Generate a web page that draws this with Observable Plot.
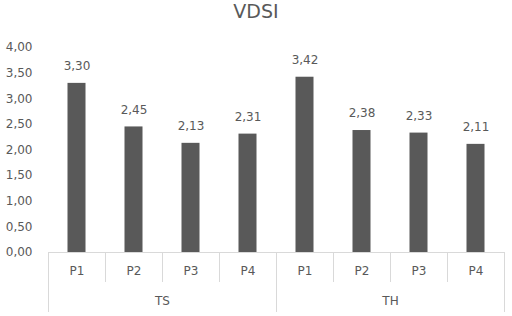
<!DOCTYPE html>
<html>
<head>
<meta charset="utf-8">
<script src="https://cdn.jsdelivr.net/npm/d3@7"></script>
<script src="https://cdn.jsdelivr.net/npm/@observablehq/plot@0.6"></script>
<style>
  html, body { margin: 0; padding: 0; background: #fff; }
  #wrap { width: 512px; }
  #title { height: 30px; line-height: 25px; text-align: center; font: 19px "DejaVu Sans", sans-serif; color: #595959; }
</style>
</head>
<body>
<div id="wrap">
  <div id="title">VDSI</div>
  <div id="chart"></div>
</div>
<script>
const groups = ["TS", "TH"];
const periods = ["P1", "P2", "P3", "P4"];
const valuesTS = [3.30, 2.45, 2.13, 2.31];
const valuesTH = [3.42, 2.38, 2.33, 2.11];
const yTicks = [0, 0.5, 1, 1.5, 2, 2.5, 3, 3.5, 4];

const seriesByGroup = {TS: valuesTS, TH: valuesTH};
const data = [];
groups.forEach((g, gi) => periods.forEach((p, pi) => {
  data.push({group: g, period: p, i: gi * periods.length + pi, value: seriesByGroup[g][pi]});
}));
const n = data.length;
const fmt = v => v.toFixed(2).replace(".", ",");
const gray = "#595959";
const light = "#d9d9d9";

const catBounds = d3.range(0, n + 1);
const groupBounds = d3.range(0, n + 1, periods.length);
const catCenters = data.map(d => d.i + 0.5);
const groupCenters = groups.map((g, gi) => gi * periods.length + periods.length / 2);

const chart = Plot.plot({
  width: 512,
  height: 286,
  marginTop: 17,
  marginBottom: 64,
  marginLeft: 48,
  marginRight: 8,
  style: {fontFamily: "DejaVu Sans, sans-serif", fontSize: "12px", color: gray, background: "#fff"},
  x: {type: "linear", domain: [0, n], label: null},
  y: {domain: [0, 4], label: null},
  marks: [
    Plot.axisY({ticks: yTicks, tickSize: 0, tickPadding: 16, tickFormat: fmt, fill: gray, fontSize: 12, label: null}),
    Plot.axisX({ticks: catBounds, tickSize: 30, tickFormat: () => "", stroke: light, label: null}),
    Plot.axisX({ticks: groupBounds, tickSize: 60, tickFormat: () => "", stroke: light, label: null}),
    Plot.axisX({ticks: catCenters, tickSize: 0, tickPadding: 14, tickFormat: v => periods[Math.floor(v) % periods.length], fill: gray, fontSize: 12, label: null}),
    Plot.axisX({ticks: groupCenters, tickSize: 0, tickPadding: 44, tickFormat: v => groups[Math.floor(v / periods.length)], fill: gray, fontSize: 12, label: null}),
    Plot.rectY(data, {x: "i", interval: 1, y: "value", insetLeft: 19.5, insetRight: 19.5, fill: gray}),
    Plot.ruleY([0], {stroke: light}),
    Plot.text(data, {x: d => d.i + 0.5, y: "value", text: d => fmt(d.value), dy: -17, fill: gray, fontSize: 12})
  ]
});
document.getElementById("chart").appendChild(chart);
</script>
</body>
</html>
